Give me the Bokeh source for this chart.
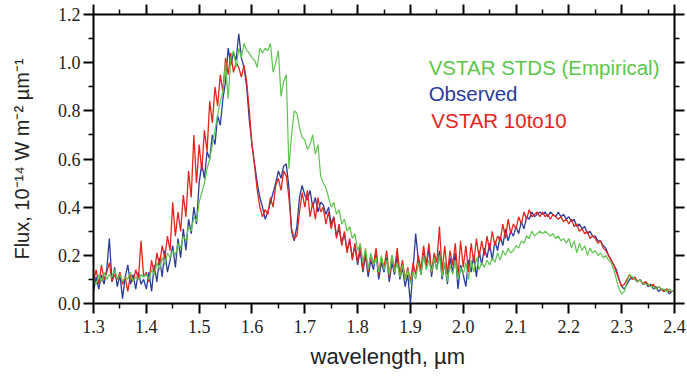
from bokeh.plotting import figure
from bokeh.models import (LinearAxis, FixedTicker, PrintfTickFormatter,
                          CustomJSTickFormatter, Range1d, Label, Title)
from bokeh.embed import file_html
from bokeh.resources import INLINE

# wavelength grid (micron), 0.005 sampling from 1.30 to 2.40
wl_start = 1.30
wl_step = 0.005
n_pts = 221
wavelength = [round(wl_start + wl_step * i, 3) for i in range(n_pts)]

observed = [
    0.05, 0.11, 0.06, 0.12, 0.08, 0.14, 0.27, 0.09, 0.15, 0.07,
    0.12, 0.02, 0.11, 0.16, 0.08, 0.12, 0.06, 0.13, 0.08, 0.10,
    0.06, 0.13, 0.05, 0.16, 0.09, 0.19, 0.11, 0.22, 0.13, 0.18,
    0.24, 0.15, 0.27, 0.19, 0.31, 0.22, 0.35, 0.29, 0.40, 0.33,
    0.50, 0.58, 0.52, 0.63, 0.60, 0.70, 0.66, 0.78, 0.74, 0.85,
    0.92, 1.06, 0.99, 1.04, 1.01, 1.12, 1.02, 0.98, 0.90, 0.76,
    0.66, 0.58, 0.50, 0.44, 0.40, 0.35, 0.38, 0.42, 0.46, 0.50,
    0.55, 0.52, 0.57, 0.58, 0.48, 0.30, 0.26, 0.32, 0.44, 0.49,
    0.45, 0.43, 0.47, 0.40, 0.44, 0.38, 0.42, 0.41, 0.37, 0.40,
    0.33, 0.36, 0.28, 0.31, 0.25, 0.29, 0.22, 0.26, 0.19, 0.24,
    0.16, 0.22, 0.13, 0.20, 0.11, 0.18, 0.14, 0.21, 0.10, 0.17,
    0.13, 0.19, 0.09, 0.17, 0.12, 0.20, 0.10, 0.15, 0.07, 0.12,
    0.00, 0.14, 0.29, 0.18, 0.12, 0.21, 0.15, 0.23, 0.11, 0.19,
    0.14, 0.22, 0.10, 0.17, 0.08, 0.19, 0.13, 0.21, 0.06, 0.16,
    0.12, 0.07, 0.18, 0.13, 0.20, 0.11, 0.22, 0.16, 0.23, 0.19,
    0.25, 0.18, 0.26, 0.22, 0.28, 0.24, 0.31, 0.26, 0.30, 0.28,
    0.32, 0.29, 0.34, 0.31, 0.36, 0.35, 0.38, 0.36, 0.37, 0.38,
    0.37, 0.38, 0.36, 0.38, 0.37, 0.36, 0.38, 0.36, 0.37, 0.35,
    0.36, 0.34, 0.35, 0.32, 0.33, 0.31, 0.32, 0.29, 0.30, 0.28,
    0.28, 0.26, 0.26, 0.24, 0.23, 0.20, 0.18, 0.16, 0.14, 0.10,
    0.07, 0.06, 0.08, 0.10, 0.11, 0.10, 0.09, 0.10, 0.08, 0.09,
    0.07, 0.08, 0.06, 0.07, 0.05, 0.06, 0.05, 0.06, 0.04, 0.05,
    0.05,
]

vstar_10to10 = [
    0.09, 0.14, 0.08, 0.16, 0.10, 0.13, 0.17, 0.09, 0.12, 0.10,
    0.13, 0.08, 0.11, 0.05, 0.12, 0.09, 0.14, 0.10, 0.26, 0.11,
    0.13, 0.09, 0.18, 0.12, 0.21, 0.16, 0.24, 0.19, 0.28, 0.22,
    0.42, 0.28, 0.38, 0.30, 0.45, 0.36, 0.55, 0.44, 0.70, 0.50,
    0.66, 0.55, 0.72, 0.63, 0.84, 0.75, 0.90, 0.82, 0.95, 0.88,
    1.02, 0.95, 1.04, 0.96, 1.00, 0.98, 0.94, 0.99, 0.92, 0.80,
    0.66, 0.57, 0.47, 0.40, 0.36, 0.39, 0.37, 0.44, 0.40, 0.49,
    0.52, 0.47, 0.55, 0.53, 0.44, 0.31, 0.27, 0.28, 0.38, 0.46,
    0.40, 0.47, 0.36, 0.42, 0.35, 0.44, 0.38, 0.40, 0.33, 0.38,
    0.31, 0.36, 0.27, 0.33, 0.24, 0.30, 0.21, 0.27, 0.18, 0.25,
    0.17, 0.24, 0.14, 0.22, 0.13, 0.20, 0.16, 0.23, 0.12, 0.19,
    0.15, 0.22, 0.11, 0.20, 0.14, 0.23, 0.12, 0.18, 0.10, 0.15,
    0.09, 0.17, 0.12, 0.20, 0.14, 0.24, 0.16, 0.25, 0.13, 0.21,
    0.17, 0.32, 0.13, 0.24, 0.12, 0.22, 0.16, 0.25, 0.11, 0.26,
    0.15, 0.24, 0.13, 0.25, 0.17, 0.27, 0.19, 0.26, 0.20, 0.28,
    0.22, 0.30, 0.24, 0.28, 0.26, 0.33, 0.27, 0.35, 0.29, 0.33,
    0.31, 0.36, 0.33, 0.38, 0.35, 0.39, 0.36, 0.37, 0.38, 0.36,
    0.38, 0.36, 0.37, 0.35, 0.37, 0.36, 0.35, 0.36, 0.34, 0.35,
    0.33, 0.35, 0.32, 0.33, 0.30, 0.31, 0.29, 0.30, 0.27, 0.28,
    0.27, 0.25, 0.26, 0.23, 0.22, 0.20, 0.18, 0.16, 0.13, 0.10,
    0.07, 0.08, 0.10, 0.12, 0.10, 0.11, 0.09, 0.10, 0.08, 0.09,
    0.08, 0.07, 0.08, 0.06, 0.07, 0.06, 0.05, 0.06, 0.05, 0.05,
    0.05,
]

vstar_stds = [
    0.10, 0.08, 0.12, 0.09, 0.13, 0.10, 0.12, 0.11, 0.14, 0.10,
    0.12, 0.09, 0.11, 0.10, 0.13, 0.09, 0.11, 0.10, 0.12, 0.11,
    0.12, 0.10, 0.14, 0.12, 0.17, 0.14, 0.19, 0.16, 0.21, 0.19,
    0.22, 0.20, 0.25, 0.23, 0.28, 0.26, 0.32, 0.30, 0.36, 0.34,
    0.42, 0.46, 0.50, 0.56, 0.60, 0.66, 0.72, 0.78, 0.84, 0.88,
    1.00, 0.85, 1.02, 1.05, 0.98, 1.06, 1.02, 1.08, 1.05, 1.04,
    1.02, 1.01, 0.98, 1.06, 1.04, 1.06, 1.05, 1.08, 0.96, 1.00,
    1.05, 0.86, 0.92, 0.95, 0.56, 0.70, 0.80, 0.79, 0.73, 0.69,
    0.68, 0.64, 0.66, 0.70, 0.62, 0.66, 0.53, 0.50, 0.48, 0.44,
    0.40, 0.42, 0.37, 0.39, 0.33, 0.35, 0.30, 0.32, 0.27, 0.29,
    0.22, 0.25, 0.17, 0.23, 0.14, 0.21, 0.16, 0.19, 0.13, 0.20,
    0.14, 0.18, 0.12, 0.20, 0.13, 0.17, 0.11, 0.16, 0.10, 0.14,
    0.08, 0.13, 0.10, 0.17, 0.12, 0.20, 0.14, 0.18, 0.13, 0.19,
    0.14, 0.20, 0.11, 0.17, 0.09, 0.16, 0.12, 0.18, 0.10, 0.15,
    0.12, 0.17, 0.10, 0.18, 0.13, 0.19, 0.14, 0.17, 0.15, 0.18,
    0.16, 0.19, 0.17, 0.21, 0.18, 0.22, 0.20, 0.23, 0.21, 0.22,
    0.24, 0.23, 0.26, 0.25, 0.28, 0.27, 0.30, 0.28, 0.29, 0.30,
    0.29, 0.30, 0.29, 0.28, 0.29, 0.27, 0.28, 0.26, 0.27, 0.25,
    0.27, 0.23, 0.26, 0.21, 0.25, 0.22, 0.24, 0.20, 0.23, 0.21,
    0.22, 0.20, 0.21, 0.19, 0.20, 0.18, 0.17, 0.14, 0.10, 0.06,
    0.04, 0.05, 0.09, 0.12, 0.11, 0.10, 0.09, 0.10, 0.08, 0.08,
    0.08, 0.07, 0.07, 0.06, 0.07, 0.06, 0.06, 0.05, 0.06, 0.05,
    0.05,
]

series_names = ["VSTAR STDS (Empirical)", "Observed", "VSTAR 10to10"]
series_colors = ["#5cc64c", "#2a3b9b", "#e2261c"]

x_ticks = [1.3, 1.4, 1.5, 1.6, 1.7, 1.8, 1.9, 2.0, 2.1, 2.2, 2.3, 2.4]
x_minor_ticks = [1.35, 1.45, 1.55, 1.65, 1.75, 1.85, 1.95, 2.05, 2.15, 2.25, 2.35]
y_ticks = [0.0, 0.2, 0.4, 0.6, 0.8, 1.0, 1.2]
y_minor_ticks = [0.1, 0.3, 0.5, 0.7, 0.9, 1.1]

x_min, x_max = 1.3, 2.4
y_min, y_max = 0.0, 1.2

SANS = "Liberation Sans"
SERIF = "Liberation Serif"

p = figure(width=687, height=377, output_backend="svg", toolbar_location=None,
           x_range=Range1d(x_min, x_max), y_range=Range1d(y_min, y_max),
           x_axis_location=None, y_axis_location=None,
           min_border_left=93, min_border_right=13,
           min_border_top=14, min_border_bottom=74)
p.xgrid.visible = False
p.ygrid.visible = False
p.outline_line_color = None
p.background_fill_color = "white"
p.border_fill_color = "white"

def make_axis(kind, show_labels):
    if kind == "x":
        tk = FixedTicker(ticks=x_ticks, minor_ticks=x_minor_ticks)
    else:
        tk = FixedTicker(ticks=y_ticks, minor_ticks=y_minor_ticks)
    if show_labels:
        fmt = PrintfTickFormatter(format="%.1f")
    else:
        fmt = CustomJSTickFormatter(code="return ''")
    ax = LinearAxis(ticker=tk, formatter=fmt)
    ax.axis_line_width = 2
    ax.axis_line_color = "black"
    ax.major_tick_out = 10
    ax.major_tick_in = 0
    ax.minor_tick_out = 5
    ax.minor_tick_in = 0
    ax.major_tick_line_width = 2
    ax.minor_tick_line_width = 1.5
    ax.major_label_text_font = SERIF
    ax.major_label_text_font_size = "18px"
    ax.major_label_text_color = "#222222"
    if not show_labels:
        ax.major_label_standoff = 0
    return ax

bottom = make_axis("x", True)
bottom.major_label_standoff = 6
p.add_layout(bottom, "below")
top = make_axis("x", False)
p.add_layout(top, "above")

left = make_axis("y", True)
left.major_label_standoff = 3
left.axis_label = "Flux, 10\u207b\u00b9\u2074 W m\u207b\u00b2 \u00b5m\u207b\u00b9"
left.axis_label_text_font = SANS
left.axis_label_text_font_style = "normal"
left.axis_label_text_font_size = "20px"
left.axis_label_text_color = "#222222"
left.axis_label_standoff = 22
p.add_layout(left, "left")
right = make_axis("y", False)
p.add_layout(right, "right")

# x axis title, placed below the axis, left-aligned with an offset
p.add_layout(Title(text="wavelength, \u00b5m", align="left", offset=217,
                   text_font=SANS, text_font_size="22px",
                   text_font_style="normal", text_color="#222222",
                   standoff=12), "below")

# spectra: observed first, then model, then empirical on top
p.line(wavelength, observed, line_color=series_colors[1], line_width=1.3)
p.line(wavelength, vstar_10to10, line_color=series_colors[2], line_width=1.3)
p.line(wavelength, vstar_stds, line_color=series_colors[0], line_width=1.2)

# legend as coloured text
legend_x = [1.9345, 1.9345, 1.9396]
legend_y = [0.981, 0.871, 0.759]
for name, col, lx, ly in zip(series_names, series_colors, legend_x, legend_y):
    p.add_layout(Label(x=lx, y=ly, text=name, text_color=col,
                       text_font=SANS, text_font_size="20.5px",
                       text_baseline="alphabetic", text_align="left"))

open("out.html", "w").write(file_html(p, INLINE))
